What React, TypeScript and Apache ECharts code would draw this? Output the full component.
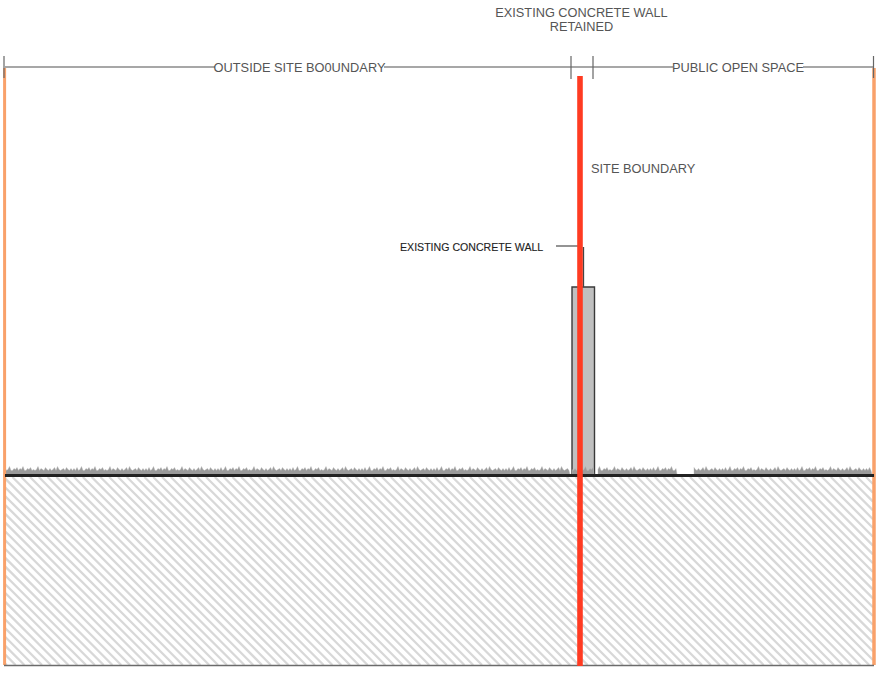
import React, { useEffect, useRef } from "react";
import * as echarts from "echarts";

const W = 892;
const H = 674;

// [x1, y1, x2, y2, colour, width]
const blackLines = [
  [5, 475.4, 874, 475.4, "#222222", 3],
  [4, 665.5, 874, 665.5, "#6b6b6b", 1.4],
  [5, 67, 215, 67, "#8a8a8a", 1.5],
  [384, 67, 571, 67, "#8a8a8a", 1.5],
  [571, 67, 593, 67, "#8a8a8a", 1.5],
  [593, 67, 673, 67, "#8a8a8a", 1.5],
  [803, 67, 873, 67, "#8a8a8a", 1.5],
  [4, 56, 4, 78, "#666666", 1.2],
  [571, 56, 571, 79, "#666666", 1.2],
  [593, 56, 593, 79, "#666666", 1.2],
  [873.5, 56, 873.5, 78, "#666666", 1.2],
  [556, 246, 581, 246, "#666666", 1.4],
  [583.4, 247, 583.4, 287, "#444444", 1.5],
];
const orangeLines = [
  [4.6, 68, 4.6, 665, "#f9a16a", 3],
  [874, 68, 874, 665, "#f9a16a", 3.5],
];
const boundaryLine = [[580, 76, 580, 666, "#ff3b22", 5.6]];

const wallRect = [572, 287, 594.5, 476];
const hatchRect = [5, 477, 873, 665];
const hatchStart = -190;
const hatchEnd = 873;
const hatchStep = 8.8;

const grassStretches = [
  [5, 570],
  [572, 594],
  [598, 677],
  [694, 872],
];
const grassHeights = [4, 6, 4, 7, 4, 5, 8, 4, 4, 6, 5, 7, 4, 6, 5, 8, 4, 4, 6, 5, 7, 4, 5, 4, 5, 8, 4, 6, 5, 4, 7, 5, 4, 6, 4, 5, 7, 4, 8, 5, 4, 5, 6, 4, 7, 5, 4, 6];

const labels = [
  ["EXISTING CONCRETE WALL", 581.5, 12, 12.75, "center", "#555555", 0],
  ["RETAINED", 581.5, 26.5, 12.75, "center", "#555555", 0],
  ["OUTSIDE SITE BO0UNDARY", 299.5, 67, 12.8, "center", "#555555", 0],
  ["PUBLIC OPEN SPACE", 738, 67, 12.8, "center", "#555555", 0],
  ["SITE BOUNDARY", 591, 168.5, 12.8, "left", "#555555", 0],
  ["EXISTING CONCRETE WALL", 400, 247, 10.6, "left", "#222222", 0.12],
];

function lineElement(api: any, s: any[]) {
  const a = api.coord([s[0], s[1]]);
  const b = api.coord([s[2], s[3]]);
  return {
    type: "line",
    shape: { x1: a[0], y1: a[1], x2: b[0], y2: b[1] },
    style: { stroke: s[4], lineWidth: s[5] },
  };
}

function lineSeries(name: string, rows: any[][], z: number) {
  return {
    name,
    type: "custom",
    coordinateSystem: "cartesian2d",
    silent: true,
    z,
    data: rows.map((_, i) => [i]),
    renderItem: (p: any, api: any) => lineElement(api, rows[p.dataIndex]),
  };
}

function hatchSegments() {
  const [x0, y0, x1, y1] = hatchRect;
  const out: number[][] = [];
  const span = y1 - y0;
  for (let x = hatchStart; x < hatchEnd; x += hatchStep) {
    let ax = x, ay = y0, bx = x + span, by = y1;
    if (ax < x0) { ay += x0 - ax; ax = x0; }
    if (bx > x1) { by -= bx - x1; bx = x1; }
    if (ax < bx) out.push([ax, ay, bx, by]);
  }
  return out;
}

function grassPoints(from: number, to: number) {
  const base = 474.5;
  const pts: number[][] = [[from, base]];
  let i = Math.floor(from / 1.5);
  for (let x = from; x <= to; x += 1.5) {
    pts.push([x, base - grassHeights[i % grassHeights.length]]);
    i += 1;
  }
  pts.push([to, base]);
  return pts;
}

export default function App() {
  const ref = useRef<HTMLDivElement>(null);
  useEffect(() => {
    document.body.style.margin = "0";
    const chart = echarts.init(ref.current!, undefined, { renderer: "svg" });
    const hatch = hatchSegments();
    chart.setOption({
      animation: false,
      backgroundColor: "#ffffff",
      grid: { left: 0, right: 0, top: 0, bottom: 0 },
      xAxis: { type: "value", min: 0, max: W, show: false },
      yAxis: { type: "value", min: 0, max: H, inverse: true, show: false },
      series: [
        {
          name: "hatch",
          type: "custom",
          silent: true,
          z: 1,
          data: hatch.map((_, i) => [i]),
          renderItem: (p: any, api: any) => {
            const s = hatch[p.dataIndex];
            return lineElement(api, [s[0], s[1], s[2], s[3], "#d8d8d8", 2.3]);
          },
        },
        {
          name: "wall",
          type: "custom",
          silent: true,
          z: 2,
          data: [[0]],
          renderItem: (_p: any, api: any) => {
            const a = api.coord([wallRect[0], wallRect[1]]);
            const b = api.coord([wallRect[2], wallRect[3]]);
            return {
              type: "rect",
              shape: { x: a[0], y: a[1], width: b[0] - a[0], height: b[1] - a[1] },
              style: { fill: "#c0c0c0", stroke: "#3a3a3a", lineWidth: 1.4 },
            };
          },
        },
        {
          name: "grass",
          type: "custom",
          silent: true,
          z: 3,
          data: grassStretches.map((_, i) => [i]),
          renderItem: (p: any, api: any) => {
            const g = grassStretches[p.dataIndex];
            return {
              type: "polygon",
              shape: { points: grassPoints(g[0], g[1]).map((q) => api.coord(q)) },
              style: { fill: "#9a9a9a", stroke: "#b4b4b4", lineWidth: 0.4 },
            };
          },
        },
        lineSeries("drafting", blackLines, 4),
        lineSeries("edges", orangeLines, 3),
        lineSeries("boundary", boundaryLine, 5),
        {
          name: "labels",
          type: "custom",
          silent: true,
          z: 6,
          data: labels.map((_, i) => [i]),
          renderItem: (p: any, api: any) => {
            const l = labels[p.dataIndex] as any[];
            const c = api.coord([l[1], l[2]]);
            return {
              type: "text",
              x: c[0],
              y: c[1],
              style: {
                text: l[0],
                fontFamily: "Liberation Sans",
                fontSize: l[3],
                align: l[4],
                verticalAlign: "middle",
                fill: l[5],
                stroke: l[6] ? l[5] : undefined,
                lineWidth: l[6],
              },
            };
          },
        },
      ],
    });
    return () => chart.dispose();
  }, []);
  return <div ref={ref} style={{ position: "absolute", left: 0, top: 0, width: W, height: H }} />;
}
